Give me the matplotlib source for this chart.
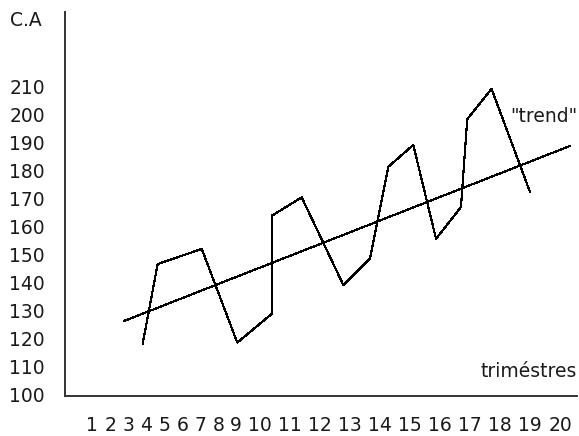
import numpy as np
import matplotlib
matplotlib.use("Agg")
import matplotlib.pyplot as plt

# ---- data ----
quarter_labels = [str(i) for i in range(1, 21)]
ytick_values = [100, 110, 120, 130, 140, 150, 160, 170, 180, 190, 200, 210]

# sales (C.A) curve, x in trimester units
ca_x = [3.8, 4.63, 7.08, 9.04, 10.38, 10.38, 11.38, 12.77, 13.66, 14.27,
        15.1, 15.86, 16.69, 16.9, 17.71, 18.99]
ca_y = [118.4, 146.7, 152.1, 118.7, 128.9, 163.9, 170.5, 139.2, 148.8, 181.4,
        189.2, 155.7, 167.0, 198.4, 209.2, 172.5]

# trend line
trend_x = [2.76, 20.32]
trend_y = [126.4, 188.8]

# ---- x scale: tick labels laid out like one line of text "1 2 3 ... 20" ----
t = np.arange(1, len(quarter_labels) + 1, dtype=float)
lens = np.array([len(s) for s in quarter_labels], dtype=float)
centers = np.concatenate([[0.0], np.cumsum(lens[:-1] + 1 + lens[1:])])
slope_l = lens[0] * 2 + 1
slope_r = lens[-1] * 2 + 1


def fwd(x):
    x = np.asarray(x, dtype=float)
    return np.where(x < t[0], centers[0] + (x - t[0]) * slope_l,
                    np.where(x > t[-1], centers[-1] + (x - t[-1]) * slope_r,
                             np.interp(x, t, centers)))


def inv(p):
    p = np.asarray(p, dtype=float)
    return np.where(p < centers[0], t[0] + (p - centers[0]) / slope_l,
                    np.where(p > centers[-1], t[-1] + (p - centers[-1]) / slope_r,
                             np.interp(p, centers, t)))


W, H = 579, 436
fig = plt.figure(figsize=(W / 100, H / 100), dpi=100)
ax = fig.add_axes([65 / W, (H - 396) / H, (577 - 65) / W, (396 - 12) / H])

FONT = "DejaVu Sans"
FS = 13.5
TXT = "#1a1a1a"

ax.plot(ca_x, ca_y, color="black", lw=0.8, antialiased=False)
ax.plot(trend_x, trend_y, color="black", lw=0.8, antialiased=False)

ax.set_xscale("function", functions=(fwd, inv))
ax.set_xlim(-0.52, 20.56)
ax.set_ylim(99.64, 236.6)

ax.set_xticks(t)
ax.set_xticklabels(quarter_labels, fontsize=FS, family=FONT, color=TXT)
ax.set_yticks(ytick_values)
ax.set_yticklabels([str(v) for v in ytick_values], fontsize=FS, family=FONT, color=TXT)
ax.tick_params(axis="both", length=0)
ax.tick_params(axis="y", pad=14.4)
ax.tick_params(axis="x", pad=14.6)
ax.minorticks_off()

for s in ("top", "right"):
    ax.spines[s].set_visible(False)
for s in ("left", "bottom"):
    ax.spines[s].set_color("#333333")
    ax.spines[s].set_linewidth(1.4)

ax.text(1.0, 0.064, "triméstres", transform=ax.transAxes, ha="right", va="center",
        fontsize=FS, family=FONT, color=TXT)
ax.text(1.0, 0.727, "\"trend\"", transform=ax.transAxes, ha="right", va="center",
        fontsize=FS, family=FONT, color=TXT)
fig.text(10 / W, 1 - 21 / H, "C.A", ha="left", va="center",
         fontsize=FS, family=FONT, color=TXT)

fig.savefig("out.png", dpi=100)
